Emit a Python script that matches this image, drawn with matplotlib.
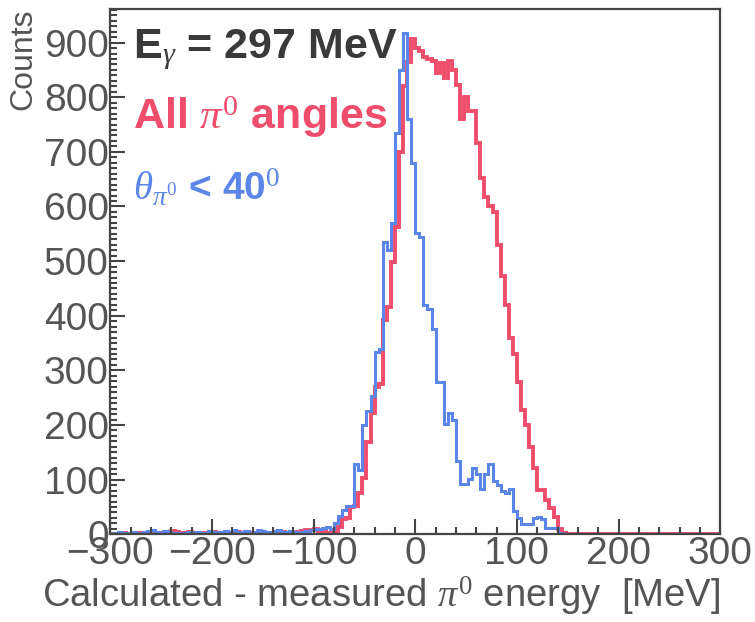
import numpy as np
import matplotlib
matplotlib.use('Agg')
import matplotlib.pyplot as plt
from matplotlib.ticker import MultipleLocator

# 4 MeV bins from -300 to 300 MeV
bin_edges = np.arange(-300, 301, 4)

# "All pi0 angles" (red), bins with lower edge -300 ... -88
all_tail_lo = [0, 1, 0, 2, 1, 0, 3, 2, 1, 0, 2, 1, 3, 2, 4, 6, 5, 3,
               2, 4, 3, 2, 1, 3, 2, 4, 3, 2, 3, 1, 2, 4, 3, 2, 1, 3,
               2, 4, 3, 2, 3, 5, 4, 3, 2, 4, 5, 6, 8, 7, 9, 6, 4, 3]
# lower edge -84 ... 144
all_core = [3, 5, 13, 28, 30, 50, 52, 75, 103, 169,
            222, 270, 275, 393, 416, 499, 563, 700, 820, 864,
            906, 890, 884, 873, 870, 866, 845, 862, 835, 866,
            850, 823, 760, 800, 774, 774, 717, 653, 618, 600,
            589, 530, 472, 420, 360, 330, 279, 228, 200, 160,
            121, 81, 81, 62, 48, 31, 10, 2]
# lower edge 148 ... 296
all_tail_hi = [0, 0, 1, 0, 0, 0, 0, 0, 0, 0, 0, 0, 0, 0, 0, 0, 0, 0, 0,
               0, 0, 0, 0, 0, 0, 0, 0, 0, 0, 0, 0, 0, 0, 0, 0, 0, 0, 0]

# theta_pi0 < 40 deg (blue)
fwd_tail_lo = [3, 2, 4, 1, 3, 5, 2, 0, 4, 6, 7, 5, 3, 6, 4, 2, 3, 1,
               2, 4, 3, 5, 2, 3, 6, 4, 3, 5, 6, 4, 7, 5, 4, 6, 3, 5,
               7, 6, 4, 5, 6, 8, 5, 4, 6, 5, 3, 4, 6, 8, 10, 9, 12, 14]
fwd_core = [10, 21, 33, 45, 51, 51, 128, 118, 200, 226,
            253, 333, 340, 535, 520, 569, 735, 850, 918, 760,
            680, 552, 545, 420, 412, 375, 278, 278, 202, 222,
            210, 134, 92, 92, 101, 121, 110, 83, 110, 128,
            97, 90, 80, 75, 83, 42, 30, 18, 18, 18,
            30, 32, 28, 12, 11, 11, 3, 0]
fwd_tail_hi = [0, 1, 0, 0, 0, 0, 1, 0, 0, 0, 0, 0, 0, 0, 0, 0, 0, 0, 0,
               0, 0, 0, 0, 0, 0, 0, 0, 0, 0, 0, 0, 0, 0, 0, 0, 0, 0, 0]

all_counts = np.array(all_tail_lo + all_core + all_tail_hi)
fwd_counts = np.array(fwd_tail_lo + fwd_core + fwd_tail_hi)

red = '#ee4d6c'
blue = '#5b86e8'
grey = '#555555'

plt.rcParams['font.family'] = ['Liberation Sans', 'DejaVu Sans']
plt.rcParams['mathtext.fontset'] = 'custom'
plt.rcParams['mathtext.rm'] = 'Liberation Serif'
plt.rcParams['mathtext.it'] = 'Liberation Serif:italic'
plt.rcParams['mathtext.bf'] = 'Liberation Sans:bold'

fig = plt.figure(figsize=(7.55, 6.22), dpi=100)
ax = fig.add_axes([0.146, 0.141, 0.808, 0.845])

ax.stairs(all_counts, bin_edges, color=red, lw=2.8)
ax.stairs(fwd_counts, bin_edges, color=blue, lw=2.2)

ax.set_xlim(-300, 300)
ax.set_ylim(0, 962)
ax.xaxis.set_major_locator(MultipleLocator(100))
ax.xaxis.set_minor_locator(MultipleLocator(20))
ax.yaxis.set_major_locator(MultipleLocator(100))
ax.yaxis.set_minor_locator(MultipleLocator(10))
ax.tick_params(which='both', direction='in', colors='#444444',
               labelcolor=grey, labelsize=28, width=1.5)
ax.tick_params(which='major', length=11)
ax.tick_params(which='minor', length=5)
ax.tick_params(axis='y', pad=1)
ax.tick_params(axis='x', pad=1)
for s in ax.spines.values():
    s.set_color('#444444')
    s.set_linewidth(1.6)

ax.set_xlabel(r'Calculated - measured $\pi^0$ energy  [MeV]', loc='right',
              fontsize=27.5, color=grey, labelpad=2)
ax.set_ylabel('Counts', loc='top', fontsize=23, color=grey, labelpad=4)

ax.text(0.037, 0.905, r'E$_\gamma$ = 297 MeV', transform=ax.transAxes,
        fontsize=31, fontweight='bold', color='#3a3a3a', va='baseline')
ax.text(0.037, 0.772, r'All $\pi^0$ angles', transform=ax.transAxes,
        fontsize=31, fontweight='bold', color=red, va='baseline')
ax.text(0.037, 0.636, r'$\theta_{\pi^0}$ < 40$^0$', transform=ax.transAxes,
        fontsize=28, fontweight='bold', color=blue, va='baseline')

fig.savefig('out.png', dpi=100)
